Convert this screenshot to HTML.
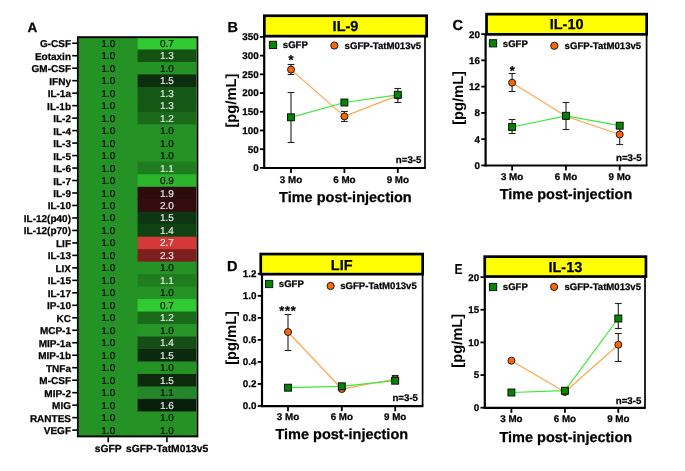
<!DOCTYPE html>
<html><head><meta charset="utf-8"><style>
html,body{margin:0;padding:0;background:#fff;}
body{width:685px;height:471px;overflow:hidden;font-family:"Liberation Sans", sans-serif;}
svg{display:block;font-family:"Liberation Sans", sans-serif;filter:blur(0);}
text{font-family:"Liberation Sans", sans-serif;text-rendering:geometricPrecision;}
</style></head><body>
<svg width="685" height="471" viewBox="0 0 685 471" >
<rect width="685" height="471" fill="#fff"/>
<rect x="78.9" y="37.0" width="117.29999999999998" height="399.36" fill="#259225"/>
<rect x="137.6" y="37.00" width="58.60" height="13.08" fill="#32ca32"/>
<rect x="137.6" y="49.48" width="58.60" height="13.08" fill="#145214"/>
<rect x="137.6" y="61.96" width="58.60" height="13.08" fill="#259225"/>
<rect x="137.6" y="74.44" width="58.60" height="13.08" fill="#0c2e0e"/>
<rect x="137.6" y="86.92" width="58.60" height="13.08" fill="#155815"/>
<rect x="137.6" y="99.40" width="58.60" height="13.08" fill="#155815"/>
<rect x="137.6" y="111.88" width="58.60" height="13.08" fill="#1a6a1a"/>
<rect x="137.6" y="124.36" width="58.60" height="13.08" fill="#259225"/>
<rect x="137.6" y="136.84" width="58.60" height="13.08" fill="#259225"/>
<rect x="137.6" y="149.32" width="58.60" height="13.08" fill="#259225"/>
<rect x="137.6" y="161.80" width="58.60" height="13.08" fill="#1f7c1f"/>
<rect x="137.6" y="174.28" width="58.60" height="13.08" fill="#2db42d"/>
<rect x="137.6" y="186.76" width="58.60" height="13.08" fill="#2e0b0d"/>
<rect x="137.6" y="199.24" width="58.60" height="13.08" fill="#330c0f"/>
<rect x="137.6" y="211.72" width="58.60" height="13.08" fill="#0d3612"/>
<rect x="137.6" y="224.20" width="58.60" height="13.08" fill="#0f4213"/>
<rect x="137.6" y="236.68" width="58.60" height="13.08" fill="#d53838"/>
<rect x="137.6" y="249.16" width="58.60" height="13.08" fill="#7d1e1f"/>
<rect x="137.6" y="261.64" width="58.60" height="13.08" fill="#259225"/>
<rect x="137.6" y="274.12" width="58.60" height="13.08" fill="#1f7c1f"/>
<rect x="137.6" y="286.60" width="58.60" height="13.08" fill="#259225"/>
<rect x="137.6" y="299.08" width="58.60" height="13.08" fill="#32ca32"/>
<rect x="137.6" y="311.56" width="58.60" height="13.08" fill="#1a6a1a"/>
<rect x="137.6" y="324.04" width="58.60" height="13.08" fill="#279627"/>
<rect x="137.6" y="336.52" width="58.60" height="13.08" fill="#164d16"/>
<rect x="137.6" y="349.00" width="58.60" height="13.08" fill="#0b2a0d"/>
<rect x="137.6" y="361.48" width="58.60" height="13.08" fill="#259225"/>
<rect x="137.6" y="373.96" width="58.60" height="13.08" fill="#0c2b0d"/>
<rect x="137.6" y="386.44" width="58.60" height="13.08" fill="#24862a"/>
<rect x="137.6" y="398.92" width="58.60" height="13.08" fill="#081e0a"/>
<rect x="137.6" y="411.40" width="58.60" height="13.08" fill="#259225"/>
<rect x="137.6" y="423.88" width="58.60" height="12.48" fill="#259225"/>
<rect x="77.9" y="37.2" width="119.5" height="399.2" fill="none" stroke="#000" stroke-width="1.9"/>
<text x="108.25" y="46.74" font-size="10" font-weight="normal" text-anchor="middle" fill="#000" stroke="#000" stroke-width="0.15">1.0</text>
<text x="166.90" y="46.74" font-size="10" font-weight="normal" text-anchor="middle" fill="#000" stroke="#000" stroke-width="0.15">0.7</text>
<line x1="72.2" y1="43.24" x2="78" y2="43.24" stroke="#000" stroke-width="1.6"/>
<text x="71.00" y="47.24" font-size="10" font-weight="bold" text-anchor="end" fill="#000"  stroke="#000" stroke-width="0.25">G-CSF</text>
<text x="108.25" y="59.22" font-size="10" font-weight="normal" text-anchor="middle" fill="#000" stroke="#000" stroke-width="0.15">1.0</text>
<text x="166.90" y="59.22" font-size="10" font-weight="normal" text-anchor="middle" fill="#ececec" stroke="#ececec" stroke-width="0.15">1.3</text>
<line x1="72.2" y1="55.72" x2="78" y2="55.72" stroke="#000" stroke-width="1.6"/>
<text x="71.00" y="59.72" font-size="10" font-weight="bold" text-anchor="end" fill="#000"  stroke="#000" stroke-width="0.25">Eotaxin</text>
<text x="108.25" y="71.70" font-size="10" font-weight="normal" text-anchor="middle" fill="#000" stroke="#000" stroke-width="0.15">1.0</text>
<text x="166.90" y="71.70" font-size="10" font-weight="normal" text-anchor="middle" fill="#000" stroke="#000" stroke-width="0.15">1.0</text>
<line x1="72.2" y1="68.20" x2="78" y2="68.20" stroke="#000" stroke-width="1.6"/>
<text x="71.00" y="72.20" font-size="10" font-weight="bold" text-anchor="end" fill="#000"  stroke="#000" stroke-width="0.25">GM-CSF</text>
<text x="108.25" y="84.18" font-size="10" font-weight="normal" text-anchor="middle" fill="#000" stroke="#000" stroke-width="0.15">1.0</text>
<text x="166.90" y="84.18" font-size="10" font-weight="normal" text-anchor="middle" fill="#ececec" stroke="#ececec" stroke-width="0.15">1.5</text>
<line x1="72.2" y1="80.68" x2="78" y2="80.68" stroke="#000" stroke-width="1.6"/>
<text x="71.00" y="84.68" font-size="10" font-weight="bold" text-anchor="end" fill="#000"  stroke="#000" stroke-width="0.25">IFNy</text>
<text x="108.25" y="96.66" font-size="10" font-weight="normal" text-anchor="middle" fill="#000" stroke="#000" stroke-width="0.15">1.0</text>
<text x="166.90" y="96.66" font-size="10" font-weight="normal" text-anchor="middle" fill="#ececec" stroke="#ececec" stroke-width="0.15">1.3</text>
<line x1="72.2" y1="93.16" x2="78" y2="93.16" stroke="#000" stroke-width="1.6"/>
<text x="71.00" y="97.16" font-size="10" font-weight="bold" text-anchor="end" fill="#000"  stroke="#000" stroke-width="0.25">IL-1a</text>
<text x="108.25" y="109.14" font-size="10" font-weight="normal" text-anchor="middle" fill="#000" stroke="#000" stroke-width="0.15">1.0</text>
<text x="166.90" y="109.14" font-size="10" font-weight="normal" text-anchor="middle" fill="#ececec" stroke="#ececec" stroke-width="0.15">1.3</text>
<line x1="72.2" y1="105.64" x2="78" y2="105.64" stroke="#000" stroke-width="1.6"/>
<text x="71.00" y="109.64" font-size="10" font-weight="bold" text-anchor="end" fill="#000"  stroke="#000" stroke-width="0.25">IL-1b</text>
<text x="108.25" y="121.62" font-size="10" font-weight="normal" text-anchor="middle" fill="#000" stroke="#000" stroke-width="0.15">1.0</text>
<text x="166.90" y="121.62" font-size="10" font-weight="normal" text-anchor="middle" fill="#ececec" stroke="#ececec" stroke-width="0.15">1.2</text>
<line x1="72.2" y1="118.12" x2="78" y2="118.12" stroke="#000" stroke-width="1.6"/>
<text x="71.00" y="122.12" font-size="10" font-weight="bold" text-anchor="end" fill="#000"  stroke="#000" stroke-width="0.25">IL-2</text>
<text x="108.25" y="134.10" font-size="10" font-weight="normal" text-anchor="middle" fill="#000" stroke="#000" stroke-width="0.15">1.0</text>
<text x="166.90" y="134.10" font-size="10" font-weight="normal" text-anchor="middle" fill="#000" stroke="#000" stroke-width="0.15">1.0</text>
<line x1="72.2" y1="130.60" x2="78" y2="130.60" stroke="#000" stroke-width="1.6"/>
<text x="71.00" y="134.60" font-size="10" font-weight="bold" text-anchor="end" fill="#000"  stroke="#000" stroke-width="0.25">IL-4</text>
<text x="108.25" y="146.58" font-size="10" font-weight="normal" text-anchor="middle" fill="#000" stroke="#000" stroke-width="0.15">1.0</text>
<text x="166.90" y="146.58" font-size="10" font-weight="normal" text-anchor="middle" fill="#000" stroke="#000" stroke-width="0.15">1.0</text>
<line x1="72.2" y1="143.08" x2="78" y2="143.08" stroke="#000" stroke-width="1.6"/>
<text x="71.00" y="147.08" font-size="10" font-weight="bold" text-anchor="end" fill="#000"  stroke="#000" stroke-width="0.25">IL-3</text>
<text x="108.25" y="159.06" font-size="10" font-weight="normal" text-anchor="middle" fill="#000" stroke="#000" stroke-width="0.15">1.0</text>
<text x="166.90" y="159.06" font-size="10" font-weight="normal" text-anchor="middle" fill="#000" stroke="#000" stroke-width="0.15">1.0</text>
<line x1="72.2" y1="155.56" x2="78" y2="155.56" stroke="#000" stroke-width="1.6"/>
<text x="71.00" y="159.56" font-size="10" font-weight="bold" text-anchor="end" fill="#000"  stroke="#000" stroke-width="0.25">IL-5</text>
<text x="108.25" y="171.54" font-size="10" font-weight="normal" text-anchor="middle" fill="#000" stroke="#000" stroke-width="0.15">1.0</text>
<text x="166.90" y="171.54" font-size="10" font-weight="normal" text-anchor="middle" fill="#ececec" stroke="#ececec" stroke-width="0.15">1.1</text>
<line x1="72.2" y1="168.04" x2="78" y2="168.04" stroke="#000" stroke-width="1.6"/>
<text x="71.00" y="172.04" font-size="10" font-weight="bold" text-anchor="end" fill="#000"  stroke="#000" stroke-width="0.25">IL-6</text>
<text x="108.25" y="184.02" font-size="10" font-weight="normal" text-anchor="middle" fill="#000" stroke="#000" stroke-width="0.15">1.0</text>
<text x="166.90" y="184.02" font-size="10" font-weight="normal" text-anchor="middle" fill="#000" stroke="#000" stroke-width="0.15">0.9</text>
<line x1="72.2" y1="180.52" x2="78" y2="180.52" stroke="#000" stroke-width="1.6"/>
<text x="71.00" y="184.52" font-size="10" font-weight="bold" text-anchor="end" fill="#000"  stroke="#000" stroke-width="0.25">IL-7</text>
<text x="108.25" y="196.50" font-size="10" font-weight="normal" text-anchor="middle" fill="#000" stroke="#000" stroke-width="0.15">1.0</text>
<text x="166.90" y="196.50" font-size="10" font-weight="normal" text-anchor="middle" fill="#ececec" stroke="#ececec" stroke-width="0.15">1.9</text>
<line x1="72.2" y1="193.00" x2="78" y2="193.00" stroke="#000" stroke-width="1.6"/>
<text x="71.00" y="197.00" font-size="10" font-weight="bold" text-anchor="end" fill="#000"  stroke="#000" stroke-width="0.25">IL-9</text>
<text x="108.25" y="208.98" font-size="10" font-weight="normal" text-anchor="middle" fill="#000" stroke="#000" stroke-width="0.15">1.0</text>
<text x="166.90" y="208.98" font-size="10" font-weight="normal" text-anchor="middle" fill="#ececec" stroke="#ececec" stroke-width="0.15">2.0</text>
<line x1="72.2" y1="205.48" x2="78" y2="205.48" stroke="#000" stroke-width="1.6"/>
<text x="71.00" y="209.48" font-size="10" font-weight="bold" text-anchor="end" fill="#000"  stroke="#000" stroke-width="0.25">IL-10</text>
<text x="108.25" y="221.46" font-size="10" font-weight="normal" text-anchor="middle" fill="#000" stroke="#000" stroke-width="0.15">1.0</text>
<text x="166.90" y="221.46" font-size="10" font-weight="normal" text-anchor="middle" fill="#ececec" stroke="#ececec" stroke-width="0.15">1.5</text>
<line x1="72.2" y1="217.96" x2="78" y2="217.96" stroke="#000" stroke-width="1.6"/>
<text x="71.00" y="221.96" font-size="10" font-weight="bold" text-anchor="end" fill="#000"  stroke="#000" stroke-width="0.25">IL-12(p40)</text>
<text x="108.25" y="233.94" font-size="10" font-weight="normal" text-anchor="middle" fill="#000" stroke="#000" stroke-width="0.15">1.0</text>
<text x="166.90" y="233.94" font-size="10" font-weight="normal" text-anchor="middle" fill="#ececec" stroke="#ececec" stroke-width="0.15">1.4</text>
<line x1="72.2" y1="230.44" x2="78" y2="230.44" stroke="#000" stroke-width="1.6"/>
<text x="71.00" y="234.44" font-size="10" font-weight="bold" text-anchor="end" fill="#000"  stroke="#000" stroke-width="0.25">IL-12(p70)</text>
<text x="108.25" y="246.42" font-size="10" font-weight="normal" text-anchor="middle" fill="#000" stroke="#000" stroke-width="0.15">1.0</text>
<text x="166.90" y="246.42" font-size="10" font-weight="normal" text-anchor="middle" fill="#ececec" stroke="#ececec" stroke-width="0.15">2.7</text>
<line x1="72.2" y1="242.92" x2="78" y2="242.92" stroke="#000" stroke-width="1.6"/>
<text x="71.00" y="246.92" font-size="10" font-weight="bold" text-anchor="end" fill="#000"  stroke="#000" stroke-width="0.25">LIF</text>
<text x="108.25" y="258.90" font-size="10" font-weight="normal" text-anchor="middle" fill="#000" stroke="#000" stroke-width="0.15">1.0</text>
<text x="166.90" y="258.90" font-size="10" font-weight="normal" text-anchor="middle" fill="#ececec" stroke="#ececec" stroke-width="0.15">2.3</text>
<line x1="72.2" y1="255.40" x2="78" y2="255.40" stroke="#000" stroke-width="1.6"/>
<text x="71.00" y="259.40" font-size="10" font-weight="bold" text-anchor="end" fill="#000"  stroke="#000" stroke-width="0.25">IL-13</text>
<text x="108.25" y="271.38" font-size="10" font-weight="normal" text-anchor="middle" fill="#000" stroke="#000" stroke-width="0.15">1.0</text>
<text x="166.90" y="271.38" font-size="10" font-weight="normal" text-anchor="middle" fill="#000" stroke="#000" stroke-width="0.15">1.0</text>
<line x1="72.2" y1="267.88" x2="78" y2="267.88" stroke="#000" stroke-width="1.6"/>
<text x="71.00" y="271.88" font-size="10" font-weight="bold" text-anchor="end" fill="#000"  stroke="#000" stroke-width="0.25">LIX</text>
<text x="108.25" y="283.86" font-size="10" font-weight="normal" text-anchor="middle" fill="#000" stroke="#000" stroke-width="0.15">1.0</text>
<text x="166.90" y="283.86" font-size="10" font-weight="normal" text-anchor="middle" fill="#ececec" stroke="#ececec" stroke-width="0.15">1.1</text>
<line x1="72.2" y1="280.36" x2="78" y2="280.36" stroke="#000" stroke-width="1.6"/>
<text x="71.00" y="284.36" font-size="10" font-weight="bold" text-anchor="end" fill="#000"  stroke="#000" stroke-width="0.25">IL-15</text>
<text x="108.25" y="296.34" font-size="10" font-weight="normal" text-anchor="middle" fill="#000" stroke="#000" stroke-width="0.15">1.0</text>
<text x="166.90" y="296.34" font-size="10" font-weight="normal" text-anchor="middle" fill="#000" stroke="#000" stroke-width="0.15">1.0</text>
<line x1="72.2" y1="292.84" x2="78" y2="292.84" stroke="#000" stroke-width="1.6"/>
<text x="71.00" y="296.84" font-size="10" font-weight="bold" text-anchor="end" fill="#000"  stroke="#000" stroke-width="0.25">IL-17</text>
<text x="108.25" y="308.82" font-size="10" font-weight="normal" text-anchor="middle" fill="#000" stroke="#000" stroke-width="0.15">1.0</text>
<text x="166.90" y="308.82" font-size="10" font-weight="normal" text-anchor="middle" fill="#000" stroke="#000" stroke-width="0.15">0.7</text>
<line x1="72.2" y1="305.32" x2="78" y2="305.32" stroke="#000" stroke-width="1.6"/>
<text x="71.00" y="309.32" font-size="10" font-weight="bold" text-anchor="end" fill="#000"  stroke="#000" stroke-width="0.25">IP-10</text>
<text x="108.25" y="321.30" font-size="10" font-weight="normal" text-anchor="middle" fill="#000" stroke="#000" stroke-width="0.15">1.0</text>
<text x="166.90" y="321.30" font-size="10" font-weight="normal" text-anchor="middle" fill="#ececec" stroke="#ececec" stroke-width="0.15">1.2</text>
<line x1="72.2" y1="317.80" x2="78" y2="317.80" stroke="#000" stroke-width="1.6"/>
<text x="71.00" y="321.80" font-size="10" font-weight="bold" text-anchor="end" fill="#000"  stroke="#000" stroke-width="0.25">KC</text>
<text x="108.25" y="333.78" font-size="10" font-weight="normal" text-anchor="middle" fill="#000" stroke="#000" stroke-width="0.15">1.0</text>
<text x="166.90" y="333.78" font-size="10" font-weight="normal" text-anchor="middle" fill="#000" stroke="#000" stroke-width="0.15">1.0</text>
<line x1="72.2" y1="330.28" x2="78" y2="330.28" stroke="#000" stroke-width="1.6"/>
<text x="71.00" y="334.28" font-size="10" font-weight="bold" text-anchor="end" fill="#000"  stroke="#000" stroke-width="0.25">MCP-1</text>
<text x="108.25" y="346.26" font-size="10" font-weight="normal" text-anchor="middle" fill="#000" stroke="#000" stroke-width="0.15">1.0</text>
<text x="166.90" y="346.26" font-size="10" font-weight="normal" text-anchor="middle" fill="#ececec" stroke="#ececec" stroke-width="0.15">1.4</text>
<line x1="72.2" y1="342.76" x2="78" y2="342.76" stroke="#000" stroke-width="1.6"/>
<text x="71.00" y="346.76" font-size="10" font-weight="bold" text-anchor="end" fill="#000"  stroke="#000" stroke-width="0.25">MIP-1a</text>
<text x="108.25" y="358.74" font-size="10" font-weight="normal" text-anchor="middle" fill="#000" stroke="#000" stroke-width="0.15">1.0</text>
<text x="166.90" y="358.74" font-size="10" font-weight="normal" text-anchor="middle" fill="#ececec" stroke="#ececec" stroke-width="0.15">1.5</text>
<line x1="72.2" y1="355.24" x2="78" y2="355.24" stroke="#000" stroke-width="1.6"/>
<text x="71.00" y="359.24" font-size="10" font-weight="bold" text-anchor="end" fill="#000"  stroke="#000" stroke-width="0.25">MIP-1b</text>
<text x="108.25" y="371.22" font-size="10" font-weight="normal" text-anchor="middle" fill="#000" stroke="#000" stroke-width="0.15">1.0</text>
<text x="166.90" y="371.22" font-size="10" font-weight="normal" text-anchor="middle" fill="#000" stroke="#000" stroke-width="0.15">1.0</text>
<line x1="72.2" y1="367.72" x2="78" y2="367.72" stroke="#000" stroke-width="1.6"/>
<text x="71.00" y="371.72" font-size="10" font-weight="bold" text-anchor="end" fill="#000"  stroke="#000" stroke-width="0.25">TNFa</text>
<text x="108.25" y="383.70" font-size="10" font-weight="normal" text-anchor="middle" fill="#000" stroke="#000" stroke-width="0.15">1.0</text>
<text x="166.90" y="383.70" font-size="10" font-weight="normal" text-anchor="middle" fill="#ececec" stroke="#ececec" stroke-width="0.15">1.5</text>
<line x1="72.2" y1="380.20" x2="78" y2="380.20" stroke="#000" stroke-width="1.6"/>
<text x="71.00" y="384.20" font-size="10" font-weight="bold" text-anchor="end" fill="#000"  stroke="#000" stroke-width="0.25">M-CSF</text>
<text x="108.25" y="396.18" font-size="10" font-weight="normal" text-anchor="middle" fill="#000" stroke="#000" stroke-width="0.15">1.0</text>
<text x="166.90" y="396.18" font-size="10" font-weight="normal" text-anchor="middle" fill="#000" stroke="#000" stroke-width="0.15">1.1</text>
<line x1="72.2" y1="392.68" x2="78" y2="392.68" stroke="#000" stroke-width="1.6"/>
<text x="71.00" y="396.68" font-size="10" font-weight="bold" text-anchor="end" fill="#000"  stroke="#000" stroke-width="0.25">MIP-2</text>
<text x="108.25" y="408.66" font-size="10" font-weight="normal" text-anchor="middle" fill="#000" stroke="#000" stroke-width="0.15">1.0</text>
<text x="166.90" y="408.66" font-size="10" font-weight="normal" text-anchor="middle" fill="#ececec" stroke="#ececec" stroke-width="0.15">1.6</text>
<line x1="72.2" y1="405.16" x2="78" y2="405.16" stroke="#000" stroke-width="1.6"/>
<text x="71.00" y="409.16" font-size="10" font-weight="bold" text-anchor="end" fill="#000"  stroke="#000" stroke-width="0.25">MIG</text>
<text x="108.25" y="421.14" font-size="10" font-weight="normal" text-anchor="middle" fill="#000" stroke="#000" stroke-width="0.15">1.0</text>
<text x="166.90" y="421.14" font-size="10" font-weight="normal" text-anchor="middle" fill="#000" stroke="#000" stroke-width="0.15">1.0</text>
<line x1="72.2" y1="417.64" x2="78" y2="417.64" stroke="#000" stroke-width="1.6"/>
<text x="71.00" y="421.64" font-size="10" font-weight="bold" text-anchor="end" fill="#000"  stroke="#000" stroke-width="0.25">RANTES</text>
<text x="108.25" y="433.62" font-size="10" font-weight="normal" text-anchor="middle" fill="#000" stroke="#000" stroke-width="0.15">1.0</text>
<text x="166.90" y="433.62" font-size="10" font-weight="normal" text-anchor="middle" fill="#000" stroke="#000" stroke-width="0.15">1.0</text>
<line x1="72.2" y1="430.12" x2="78" y2="430.12" stroke="#000" stroke-width="1.6"/>
<text x="71.00" y="434.12" font-size="10" font-weight="bold" text-anchor="end" fill="#000"  stroke="#000" stroke-width="0.25">VEGF</text>
<line x1="108.25" y1="437.36" x2="108.25" y2="442.36" stroke="#000" stroke-width="1.6"/>
<line x1="166.90" y1="437.36" x2="166.90" y2="442.36" stroke="#000" stroke-width="1.6"/>
<text x="108.25" y="452.30" font-size="10.3" font-weight="bold" text-anchor="middle" fill="#000"  stroke="#000" stroke-width="0.25">sGFP</text>
<text x="167.20" y="452.30" font-size="10.3" font-weight="bold" text-anchor="middle" fill="#000"  stroke="#000" stroke-width="0.25">sGFP-TatM013v5</text>
<text x="27.50" y="32.40" font-size="13.5" font-weight="bold" text-anchor="start" fill="#000"  stroke="#000" stroke-width="0.25">A</text>
<rect x="264.35" y="15.75" width="162.30" height="20.40" fill="#ffff00" stroke="#000" stroke-width="2.7"/>
<text x="345.50" y="31.00" font-size="14.5" font-weight="bold" text-anchor="middle" fill="#000"  stroke="#000" stroke-width="0.25">IL-9</text>
<line x1="425.00" y1="37.00" x2="425.00" y2="168.00" stroke="#000" stroke-width="1.7"/>
<line x1="264.20" y1="36.50" x2="264.20" y2="169.00" stroke="#000" stroke-width="2.2"/>
<line x1="263.20" y1="168.00" x2="425.80" y2="168.00" stroke="#000" stroke-width="2.2"/>
<line x1="259.90" y1="167.90" x2="264.20" y2="167.90" stroke="#000" stroke-width="1.8"/>
<text x="258.60" y="171.30" font-size="9.8" font-weight="bold" text-anchor="end" fill="#000"  stroke="#000" stroke-width="0.25">0</text>
<line x1="259.90" y1="149.19" x2="264.20" y2="149.19" stroke="#000" stroke-width="1.8"/>
<text x="258.60" y="152.59" font-size="9.8" font-weight="bold" text-anchor="end" fill="#000"  stroke="#000" stroke-width="0.25">50</text>
<line x1="259.90" y1="130.47" x2="264.20" y2="130.47" stroke="#000" stroke-width="1.8"/>
<text x="258.60" y="133.87" font-size="9.8" font-weight="bold" text-anchor="end" fill="#000"  stroke="#000" stroke-width="0.25">100</text>
<line x1="259.90" y1="111.76" x2="264.20" y2="111.76" stroke="#000" stroke-width="1.8"/>
<text x="258.60" y="115.16" font-size="9.8" font-weight="bold" text-anchor="end" fill="#000"  stroke="#000" stroke-width="0.25">150</text>
<line x1="259.90" y1="93.04" x2="264.20" y2="93.04" stroke="#000" stroke-width="1.8"/>
<text x="258.60" y="96.44" font-size="9.8" font-weight="bold" text-anchor="end" fill="#000"  stroke="#000" stroke-width="0.25">200</text>
<line x1="259.90" y1="74.33" x2="264.20" y2="74.33" stroke="#000" stroke-width="1.8"/>
<text x="258.60" y="77.73" font-size="9.8" font-weight="bold" text-anchor="end" fill="#000"  stroke="#000" stroke-width="0.25">250</text>
<line x1="259.90" y1="55.61" x2="264.20" y2="55.61" stroke="#000" stroke-width="1.8"/>
<text x="258.60" y="59.01" font-size="9.8" font-weight="bold" text-anchor="end" fill="#000"  stroke="#000" stroke-width="0.25">300</text>
<line x1="259.90" y1="36.90" x2="264.20" y2="36.90" stroke="#000" stroke-width="1.8"/>
<text x="258.60" y="40.30" font-size="9.8" font-weight="bold" text-anchor="end" fill="#000"  stroke="#000" stroke-width="0.25">350</text>
<line x1="291.00" y1="168.00" x2="291.00" y2="173.00" stroke="#000" stroke-width="1.8"/>
<text x="291.00" y="182.60" font-size="9.8" font-weight="bold" text-anchor="middle" fill="#000"  stroke="#000" stroke-width="0.25">3 Mo</text>
<line x1="344.40" y1="168.00" x2="344.40" y2="173.00" stroke="#000" stroke-width="1.8"/>
<text x="344.40" y="182.60" font-size="9.8" font-weight="bold" text-anchor="middle" fill="#000"  stroke="#000" stroke-width="0.25">6 Mo</text>
<line x1="397.80" y1="168.00" x2="397.80" y2="173.00" stroke="#000" stroke-width="1.8"/>
<text x="397.80" y="182.60" font-size="9.8" font-weight="bold" text-anchor="middle" fill="#000"  stroke="#000" stroke-width="0.25">9 Mo</text>
<text x="345.40" y="201.70" font-size="14.5" font-weight="bold" text-anchor="middle" fill="#000"  stroke="#000" stroke-width="0.25">Time post-injection</text>
<text x="0" y="0" font-size="14.7" font-weight="bold" text-anchor="middle" transform="translate(236.00,100.60) rotate(-90)">[pg/mL]</text>
<text x="227.60" y="32.20" font-size="14.5" font-weight="bold" text-anchor="start" fill="#000"  stroke="#000" stroke-width="0.25">B</text>
<line x1="268.00" y1="44.90" x2="278.00" y2="44.90" stroke="#3ee83e" stroke-width="0.8" opacity="0.6"/>
<rect x="269.40" y="41.30" width="7.2" height="7.2" fill="#068406" stroke="#0a1a0a" stroke-width="1"/>
<text x="282.80" y="48.10" font-size="9.6" font-weight="bold" text-anchor="start" fill="#000"  stroke="#000" stroke-width="0.25">sGFP</text>
<circle cx="334.30" cy="45.50" r="3.6" fill="#ff6600" stroke="#1a1a1a" stroke-width="1"/>
<text x="344.60" y="48.70" font-size="9.6" font-weight="bold" text-anchor="start" fill="#000"  stroke="#000" stroke-width="0.25">sGFP-TatM013v5</text>
<text x="421.40" y="162.80" font-size="9.7" font-weight="bold" text-anchor="end" fill="#000"  stroke="#000" stroke-width="0.25">n=3-5</text>
<polyline points="291.00,69.60 344.40,116.40 397.80,95.60" fill="none" stroke="#ffa64d" stroke-width="1.2"/>
<polyline points="291.00,117.30 344.40,102.50 397.80,94.80" fill="none" stroke="#3ee83e" stroke-width="1.2"/>
<line x1="291.00" y1="64.20" x2="291.00" y2="74.30" stroke="#333" stroke-width="1.2"/>
<line x1="287.60" y1="64.50" x2="294.40" y2="64.50" stroke="#222" stroke-width="1.1"/>
<line x1="287.60" y1="74.50" x2="294.40" y2="74.50" stroke="#222" stroke-width="1.1"/>
<line x1="291.00" y1="92.10" x2="291.00" y2="142.70" stroke="#333" stroke-width="1.2"/>
<line x1="287.60" y1="92.50" x2="294.40" y2="92.50" stroke="#222" stroke-width="1.1"/>
<line x1="287.60" y1="142.50" x2="294.40" y2="142.50" stroke="#222" stroke-width="1.1"/>
<circle cx="291.00" cy="69.60" r="3.5" fill="#ff6600" stroke="#1a1a1a" stroke-width="1"/>
<rect x="287.55" y="113.85" width="6.9" height="6.9" fill="#068406" stroke="#061206" stroke-width="1"/>
<line x1="344.40" y1="111.60" x2="344.40" y2="121.20" stroke="#333" stroke-width="1.2"/>
<line x1="341.00" y1="111.50" x2="347.80" y2="111.50" stroke="#222" stroke-width="1.1"/>
<line x1="341.00" y1="121.50" x2="347.80" y2="121.50" stroke="#222" stroke-width="1.1"/>
<circle cx="344.40" cy="116.40" r="3.5" fill="#ff6600" stroke="#1a1a1a" stroke-width="1"/>
<rect x="340.95" y="99.05" width="6.9" height="6.9" fill="#068406" stroke="#061206" stroke-width="1"/>
<line x1="397.80" y1="88.70" x2="397.80" y2="102.10" stroke="#333" stroke-width="1.2"/>
<line x1="394.40" y1="88.50" x2="401.20" y2="88.50" stroke="#222" stroke-width="1.1"/>
<line x1="394.40" y1="102.50" x2="401.20" y2="102.50" stroke="#222" stroke-width="1.1"/>
<circle cx="397.80" cy="95.60" r="3.5" fill="#ff6600" stroke="#1a1a1a" stroke-width="1"/>
<rect x="394.35" y="91.35" width="6.9" height="6.9" fill="#068406" stroke="#061206" stroke-width="1"/>
<text x="290.90" y="64.00" font-size="12.8" font-weight="bold" text-anchor="middle" fill="#000"  stroke="#000" stroke-width="0.25">*</text>
<rect x="486.55" y="14.15" width="160.10" height="20.20" fill="#ffff00" stroke="#000" stroke-width="2.7"/>
<text x="566.60" y="29.20" font-size="14.5" font-weight="bold" text-anchor="middle" fill="#000"  stroke="#000" stroke-width="0.25">IL-10</text>
<line x1="646.60" y1="35.20" x2="646.60" y2="165.50" stroke="#000" stroke-width="1.7"/>
<line x1="485.60" y1="34.70" x2="485.60" y2="166.50" stroke="#000" stroke-width="2.2"/>
<line x1="484.60" y1="165.50" x2="647.40" y2="165.50" stroke="#000" stroke-width="2.2"/>
<line x1="481.30" y1="165.40" x2="485.60" y2="165.40" stroke="#000" stroke-width="1.8"/>
<text x="480.00" y="168.80" font-size="9.8" font-weight="bold" text-anchor="end" fill="#000"  stroke="#000" stroke-width="0.25">0</text>
<line x1="481.30" y1="139.14" x2="485.60" y2="139.14" stroke="#000" stroke-width="1.8"/>
<text x="480.00" y="142.54" font-size="9.8" font-weight="bold" text-anchor="end" fill="#000"  stroke="#000" stroke-width="0.25">4</text>
<line x1="481.30" y1="112.88" x2="485.60" y2="112.88" stroke="#000" stroke-width="1.8"/>
<text x="480.00" y="116.28" font-size="9.8" font-weight="bold" text-anchor="end" fill="#000"  stroke="#000" stroke-width="0.25">8</text>
<line x1="481.30" y1="86.62" x2="485.60" y2="86.62" stroke="#000" stroke-width="1.8"/>
<text x="480.00" y="90.02" font-size="9.8" font-weight="bold" text-anchor="end" fill="#000"  stroke="#000" stroke-width="0.25">12</text>
<line x1="481.30" y1="60.36" x2="485.60" y2="60.36" stroke="#000" stroke-width="1.8"/>
<text x="480.00" y="63.76" font-size="9.8" font-weight="bold" text-anchor="end" fill="#000"  stroke="#000" stroke-width="0.25">16</text>
<line x1="481.30" y1="34.10" x2="485.60" y2="34.10" stroke="#000" stroke-width="1.8"/>
<text x="480.00" y="37.50" font-size="9.8" font-weight="bold" text-anchor="end" fill="#000"  stroke="#000" stroke-width="0.25">20</text>
<line x1="512.10" y1="165.50" x2="512.10" y2="170.50" stroke="#000" stroke-width="1.8"/>
<text x="512.10" y="180.00" font-size="9.8" font-weight="bold" text-anchor="middle" fill="#000"  stroke="#000" stroke-width="0.25">3 Mo</text>
<line x1="566.00" y1="165.50" x2="566.00" y2="170.50" stroke="#000" stroke-width="1.8"/>
<text x="566.00" y="180.00" font-size="9.8" font-weight="bold" text-anchor="middle" fill="#000"  stroke="#000" stroke-width="0.25">6 Mo</text>
<line x1="619.70" y1="165.50" x2="619.70" y2="170.50" stroke="#000" stroke-width="1.8"/>
<text x="619.70" y="180.00" font-size="9.8" font-weight="bold" text-anchor="middle" fill="#000"  stroke="#000" stroke-width="0.25">9 Mo</text>
<text x="566.00" y="199.40" font-size="14.5" font-weight="bold" text-anchor="middle" fill="#000"  stroke="#000" stroke-width="0.25">Time post-injection</text>
<text x="0" y="0" font-size="14.7" font-weight="bold" text-anchor="middle" transform="translate(463.00,97.90) rotate(-90)">[pg/mL]</text>
<text x="452.40" y="30.00" font-size="14.5" font-weight="bold" text-anchor="start" fill="#000"  stroke="#000" stroke-width="0.25">C</text>
<line x1="488.00" y1="43.30" x2="498.00" y2="43.30" stroke="#3ee83e" stroke-width="0.8" opacity="0.6"/>
<rect x="489.40" y="39.70" width="7.2" height="7.2" fill="#068406" stroke="#0a1a0a" stroke-width="1"/>
<text x="502.80" y="47.00" font-size="9.6" font-weight="bold" text-anchor="start" fill="#000"  stroke="#000" stroke-width="0.25">sGFP</text>
<circle cx="554.30" cy="45.80" r="3.6" fill="#ff6600" stroke="#1a1a1a" stroke-width="1"/>
<text x="564.60" y="48.90" font-size="9.6" font-weight="bold" text-anchor="start" fill="#000"  stroke="#000" stroke-width="0.25">sGFP-TatM013v5</text>
<text x="641.60" y="160.50" font-size="9.7" font-weight="bold" text-anchor="end" fill="#000"  stroke="#000" stroke-width="0.25">n=3-5</text>
<polyline points="512.10,82.70 566.00,116.20 619.70,134.50" fill="none" stroke="#ffa64d" stroke-width="1.2"/>
<polyline points="512.10,127.00 566.00,115.80 619.70,125.70" fill="none" stroke="#3ee83e" stroke-width="1.2"/>
<line x1="512.10" y1="73.70" x2="512.10" y2="91.30" stroke="#333" stroke-width="1.2"/>
<line x1="508.70" y1="73.50" x2="515.50" y2="73.50" stroke="#222" stroke-width="1.1"/>
<line x1="508.70" y1="91.50" x2="515.50" y2="91.50" stroke="#222" stroke-width="1.1"/>
<line x1="512.10" y1="119.60" x2="512.10" y2="133.90" stroke="#333" stroke-width="1.2"/>
<line x1="508.70" y1="119.50" x2="515.50" y2="119.50" stroke="#222" stroke-width="1.1"/>
<line x1="508.70" y1="133.50" x2="515.50" y2="133.50" stroke="#222" stroke-width="1.1"/>
<circle cx="512.10" cy="82.70" r="3.5" fill="#ff6600" stroke="#1a1a1a" stroke-width="1"/>
<rect x="508.65" y="123.55" width="6.9" height="6.9" fill="#068406" stroke="#061206" stroke-width="1"/>
<line x1="566.00" y1="102.40" x2="566.00" y2="129.50" stroke="#333" stroke-width="1.2"/>
<line x1="562.60" y1="102.50" x2="569.40" y2="102.50" stroke="#222" stroke-width="1.1"/>
<line x1="562.60" y1="129.50" x2="569.40" y2="129.50" stroke="#222" stroke-width="1.1"/>
<circle cx="566.00" cy="116.20" r="3.5" fill="#ff6600" stroke="#1a1a1a" stroke-width="1"/>
<rect x="562.55" y="112.35" width="6.9" height="6.9" fill="#068406" stroke="#061206" stroke-width="1"/>
<line x1="619.70" y1="125.00" x2="619.70" y2="144.00" stroke="#333" stroke-width="1.2"/>
<line x1="616.30" y1="124.50" x2="623.10" y2="124.50" stroke="#222" stroke-width="1.1"/>
<line x1="616.30" y1="144.50" x2="623.10" y2="144.50" stroke="#222" stroke-width="1.1"/>
<rect x="616.25" y="122.25" width="6.9" height="6.9" fill="#068406" stroke="#061206" stroke-width="1"/>
<circle cx="619.70" cy="134.50" r="3.5" fill="#ff6600" stroke="#1a1a1a" stroke-width="1"/>
<text x="512.20" y="75.40" font-size="12.8" font-weight="bold" text-anchor="middle" fill="#000"  stroke="#000" stroke-width="0.25">*</text>
<rect x="260.75" y="254.05" width="161.90" height="20.10" fill="#ffff00" stroke="#000" stroke-width="2.7"/>
<text x="341.70" y="269.50" font-size="14.5" font-weight="bold" text-anchor="middle" fill="#000"  stroke="#000" stroke-width="0.25">LIF</text>
<line x1="422.60" y1="275.00" x2="422.60" y2="406.20" stroke="#000" stroke-width="1.7"/>
<line x1="262.00" y1="274.50" x2="262.00" y2="407.20" stroke="#000" stroke-width="2.2"/>
<line x1="261.00" y1="406.20" x2="423.40" y2="406.20" stroke="#000" stroke-width="2.2"/>
<line x1="257.70" y1="406.00" x2="262.00" y2="406.00" stroke="#000" stroke-width="1.8"/>
<text x="256.40" y="409.40" font-size="9.8" font-weight="bold" text-anchor="end" fill="#000"  stroke="#000" stroke-width="0.25">0.0</text>
<line x1="257.70" y1="383.97" x2="262.00" y2="383.97" stroke="#000" stroke-width="1.8"/>
<text x="256.40" y="387.37" font-size="9.8" font-weight="bold" text-anchor="end" fill="#000"  stroke="#000" stroke-width="0.25">0.2</text>
<line x1="257.70" y1="361.93" x2="262.00" y2="361.93" stroke="#000" stroke-width="1.8"/>
<text x="256.40" y="365.33" font-size="9.8" font-weight="bold" text-anchor="end" fill="#000"  stroke="#000" stroke-width="0.25">0.4</text>
<line x1="257.70" y1="339.90" x2="262.00" y2="339.90" stroke="#000" stroke-width="1.8"/>
<text x="256.40" y="343.30" font-size="9.8" font-weight="bold" text-anchor="end" fill="#000"  stroke="#000" stroke-width="0.25">0.6</text>
<line x1="257.70" y1="317.87" x2="262.00" y2="317.87" stroke="#000" stroke-width="1.8"/>
<text x="256.40" y="321.27" font-size="9.8" font-weight="bold" text-anchor="end" fill="#000"  stroke="#000" stroke-width="0.25">0.8</text>
<line x1="257.70" y1="295.83" x2="262.00" y2="295.83" stroke="#000" stroke-width="1.8"/>
<text x="256.40" y="299.23" font-size="9.8" font-weight="bold" text-anchor="end" fill="#000"  stroke="#000" stroke-width="0.25">1.0</text>
<line x1="257.70" y1="273.80" x2="262.00" y2="273.80" stroke="#000" stroke-width="1.8"/>
<text x="256.40" y="277.20" font-size="9.8" font-weight="bold" text-anchor="end" fill="#000"  stroke="#000" stroke-width="0.25">1.2</text>
<line x1="288.00" y1="406.20" x2="288.00" y2="411.20" stroke="#000" stroke-width="1.8"/>
<text x="288.00" y="420.00" font-size="9.8" font-weight="bold" text-anchor="middle" fill="#000"  stroke="#000" stroke-width="0.25">3 Mo</text>
<line x1="341.80" y1="406.20" x2="341.80" y2="411.20" stroke="#000" stroke-width="1.8"/>
<text x="341.80" y="420.00" font-size="9.8" font-weight="bold" text-anchor="middle" fill="#000"  stroke="#000" stroke-width="0.25">6 Mo</text>
<line x1="395.20" y1="406.20" x2="395.20" y2="411.20" stroke="#000" stroke-width="1.8"/>
<text x="395.20" y="420.00" font-size="9.8" font-weight="bold" text-anchor="middle" fill="#000"  stroke="#000" stroke-width="0.25">9 Mo</text>
<text x="341.80" y="438.80" font-size="14.5" font-weight="bold" text-anchor="middle" fill="#000"  stroke="#000" stroke-width="0.25">Time post-injection</text>
<text x="0" y="0" font-size="14.7" font-weight="bold" text-anchor="middle" transform="translate(235.50,337.90) rotate(-90)">[pg/mL]</text>
<text x="227.00" y="270.60" font-size="14.5" font-weight="bold" text-anchor="start" fill="#000"  stroke="#000" stroke-width="0.25">D</text>
<line x1="264.10" y1="284.00" x2="274.10" y2="284.00" stroke="#3ee83e" stroke-width="0.8" opacity="0.6"/>
<rect x="265.50" y="280.40" width="7.2" height="7.2" fill="#068406" stroke="#0a1a0a" stroke-width="1"/>
<text x="278.80" y="287.20" font-size="9.6" font-weight="bold" text-anchor="start" fill="#000"  stroke="#000" stroke-width="0.25">sGFP</text>
<circle cx="330.60" cy="286.00" r="3.6" fill="#ff6600" stroke="#1a1a1a" stroke-width="1"/>
<text x="340.20" y="289.20" font-size="9.6" font-weight="bold" text-anchor="start" fill="#000"  stroke="#000" stroke-width="0.25">sGFP-TatM013v5</text>
<text x="418.00" y="400.60" font-size="9.7" font-weight="bold" text-anchor="end" fill="#000"  stroke="#000" stroke-width="0.25">n=3-5</text>
<polyline points="288.00,332.00 341.80,389.00 395.20,379.00" fill="none" stroke="#ffa64d" stroke-width="1.2"/>
<polyline points="288.00,387.70 341.80,386.30 395.20,380.70" fill="none" stroke="#3ee83e" stroke-width="1.2"/>
<line x1="288.00" y1="314.00" x2="288.00" y2="350.00" stroke="#333" stroke-width="1.2"/>
<line x1="284.60" y1="314.50" x2="291.40" y2="314.50" stroke="#222" stroke-width="1.1"/>
<line x1="284.60" y1="350.50" x2="291.40" y2="350.50" stroke="#222" stroke-width="1.1"/>
<circle cx="288.00" cy="332.00" r="3.5" fill="#ff6600" stroke="#1a1a1a" stroke-width="1"/>
<rect x="284.55" y="384.25" width="6.9" height="6.9" fill="#068406" stroke="#061206" stroke-width="1"/>
<circle cx="341.80" cy="389.00" r="3.5" fill="#ff6600" stroke="#1a1a1a" stroke-width="1"/>
<rect x="338.35" y="382.85" width="6.9" height="6.9" fill="#068406" stroke="#061206" stroke-width="1"/>
<line x1="395.20" y1="375.30" x2="395.20" y2="382.70" stroke="#333" stroke-width="1.2"/>
<line x1="391.80" y1="375.50" x2="398.60" y2="375.50" stroke="#222" stroke-width="1.1"/>
<line x1="391.80" y1="382.50" x2="398.60" y2="382.50" stroke="#222" stroke-width="1.1"/>
<circle cx="395.20" cy="379.00" r="3.5" fill="#ff6600" stroke="#1a1a1a" stroke-width="1"/>
<rect x="391.75" y="377.25" width="6.9" height="6.9" fill="#068406" stroke="#061206" stroke-width="1"/>
<text x="287.80" y="315.00" font-size="12.8" font-weight="bold" text-anchor="middle" fill="#000" letter-spacing="0.8" stroke="#000" stroke-width="0.25">***</text>
<rect x="484.75" y="256.65" width="161.20" height="19.90" fill="#ffff00" stroke="#000" stroke-width="2.7"/>
<text x="565.35" y="272.00" font-size="14.5" font-weight="bold" text-anchor="middle" fill="#000"  stroke="#000" stroke-width="0.25">IL-13</text>
<line x1="645.00" y1="277.40" x2="645.00" y2="407.80" stroke="#000" stroke-width="1.7"/>
<line x1="484.80" y1="276.90" x2="484.80" y2="408.80" stroke="#000" stroke-width="2.2"/>
<line x1="483.80" y1="407.80" x2="645.80" y2="407.80" stroke="#000" stroke-width="2.2"/>
<line x1="480.50" y1="407.70" x2="484.80" y2="407.70" stroke="#000" stroke-width="1.8"/>
<text x="479.20" y="411.10" font-size="9.8" font-weight="bold" text-anchor="end" fill="#000"  stroke="#000" stroke-width="0.25">0</text>
<line x1="480.50" y1="375.05" x2="484.80" y2="375.05" stroke="#000" stroke-width="1.8"/>
<text x="479.20" y="378.45" font-size="9.8" font-weight="bold" text-anchor="end" fill="#000"  stroke="#000" stroke-width="0.25">5</text>
<line x1="480.50" y1="342.40" x2="484.80" y2="342.40" stroke="#000" stroke-width="1.8"/>
<text x="479.20" y="345.80" font-size="9.8" font-weight="bold" text-anchor="end" fill="#000"  stroke="#000" stroke-width="0.25">10</text>
<line x1="480.50" y1="309.75" x2="484.80" y2="309.75" stroke="#000" stroke-width="1.8"/>
<text x="479.20" y="313.15" font-size="9.8" font-weight="bold" text-anchor="end" fill="#000"  stroke="#000" stroke-width="0.25">15</text>
<line x1="480.50" y1="277.10" x2="484.80" y2="277.10" stroke="#000" stroke-width="1.8"/>
<text x="479.20" y="280.50" font-size="9.8" font-weight="bold" text-anchor="end" fill="#000"  stroke="#000" stroke-width="0.25">20</text>
<line x1="511.40" y1="407.80" x2="511.40" y2="412.80" stroke="#000" stroke-width="1.8"/>
<text x="511.40" y="422.00" font-size="9.8" font-weight="bold" text-anchor="middle" fill="#000"  stroke="#000" stroke-width="0.25">3 Mo</text>
<line x1="564.90" y1="407.80" x2="564.90" y2="412.80" stroke="#000" stroke-width="1.8"/>
<text x="564.90" y="422.00" font-size="9.8" font-weight="bold" text-anchor="middle" fill="#000"  stroke="#000" stroke-width="0.25">6 Mo</text>
<line x1="618.30" y1="407.80" x2="618.30" y2="412.80" stroke="#000" stroke-width="1.8"/>
<text x="618.30" y="422.00" font-size="9.8" font-weight="bold" text-anchor="middle" fill="#000"  stroke="#000" stroke-width="0.25">9 Mo</text>
<text x="565.80" y="442.10" font-size="14.5" font-weight="bold" text-anchor="middle" fill="#000"  stroke="#000" stroke-width="0.25">Time post-injection</text>
<text x="0" y="0" font-size="14.7" font-weight="bold" text-anchor="middle" transform="translate(461.60,340.80) rotate(-90)">[pg/mL]</text>
<text x="0" y="0" font-size="14.5" font-weight="bold" transform="translate(454.60,273.60) scale(0.84,1)">E</text>
<line x1="488.10" y1="287.00" x2="498.10" y2="287.00" stroke="#3ee83e" stroke-width="0.8" opacity="0.6"/>
<rect x="489.50" y="283.40" width="7.2" height="7.2" fill="#068406" stroke="#0a1a0a" stroke-width="1"/>
<text x="502.80" y="289.90" font-size="9.6" font-weight="bold" text-anchor="start" fill="#000"  stroke="#000" stroke-width="0.25">sGFP</text>
<circle cx="554.10" cy="286.90" r="3.6" fill="#ff6600" stroke="#1a1a1a" stroke-width="1"/>
<text x="564.40" y="290.00" font-size="9.6" font-weight="bold" text-anchor="start" fill="#000"  stroke="#000" stroke-width="0.25">sGFP-TatM013v5</text>
<text x="641.30" y="403.80" font-size="9.7" font-weight="bold" text-anchor="end" fill="#000"  stroke="#000" stroke-width="0.25">n=3-5</text>
<polyline points="511.40,360.70 564.90,392.00 618.30,344.70" fill="none" stroke="#ffa64d" stroke-width="1.2"/>
<polyline points="511.40,392.50 564.90,390.70 618.30,318.50" fill="none" stroke="#3ee83e" stroke-width="1.2"/>
<circle cx="511.40" cy="360.70" r="3.5" fill="#ff6600" stroke="#1a1a1a" stroke-width="1"/>
<rect x="507.95" y="389.05" width="6.9" height="6.9" fill="#068406" stroke="#061206" stroke-width="1"/>
<circle cx="564.90" cy="392.00" r="3.5" fill="#ff6600" stroke="#1a1a1a" stroke-width="1"/>
<rect x="561.45" y="387.25" width="6.9" height="6.9" fill="#068406" stroke="#061206" stroke-width="1"/>
<line x1="618.30" y1="333.50" x2="618.30" y2="361.10" stroke="#333" stroke-width="1.2"/>
<line x1="614.90" y1="333.50" x2="621.70" y2="333.50" stroke="#222" stroke-width="1.1"/>
<line x1="614.90" y1="361.50" x2="621.70" y2="361.50" stroke="#222" stroke-width="1.1"/>
<line x1="618.30" y1="303.80" x2="618.30" y2="328.30" stroke="#333" stroke-width="1.2"/>
<line x1="614.90" y1="303.50" x2="621.70" y2="303.50" stroke="#222" stroke-width="1.1"/>
<line x1="614.90" y1="328.50" x2="621.70" y2="328.50" stroke="#222" stroke-width="1.1"/>
<circle cx="618.30" cy="344.70" r="3.5" fill="#ff6600" stroke="#1a1a1a" stroke-width="1"/>
<rect x="614.85" y="315.05" width="6.9" height="6.9" fill="#068406" stroke="#061206" stroke-width="1"/>
</svg>
</body></html>
